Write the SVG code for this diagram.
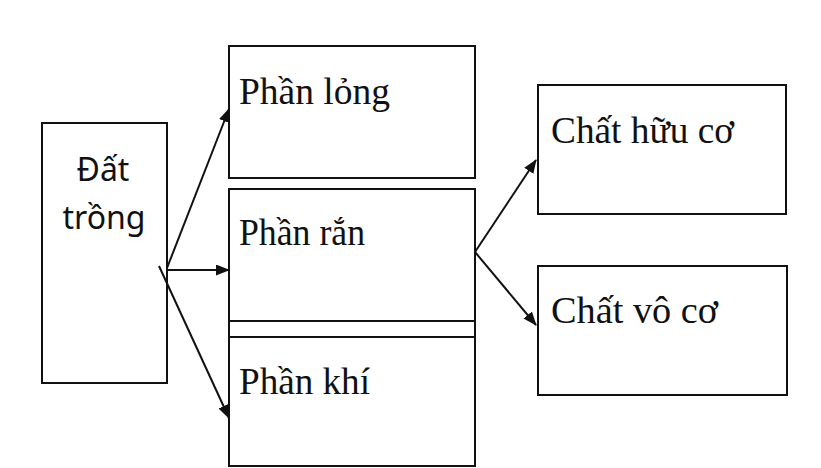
<svg xmlns="http://www.w3.org/2000/svg" width="821" height="468" viewBox="0 0 821 468">
<style>
.box{fill:#fff;stroke:#111;stroke-width:2}
.lbl{font-family:"Liberation Serif","Times New Roman",serif;font-size:37px;fill:#111}
.sans{font-family:"Noto Sans","Open Sans",sans-serif;font-size:32px;fill:#111;text-anchor:middle}
.conn{stroke:#111;stroke-width:2;fill:none}
</style>
<defs>
<marker id="ah" viewBox="0 0 14 11" refX="13" refY="5.5" markerWidth="14" markerHeight="11" markerUnits="userSpaceOnUse" orient="auto">
<path d="M0,0 L14,5.5 L0,11 Z" fill="#111"/>
</marker>
</defs>
<rect width="821" height="468" fill="#fff"/>
<g id="dat-trong">
<rect class="box" x="42" y="123" width="125" height="260"/>
<text class="sans" x="103" y="181">Đất</text>
<text class="sans" x="104" y="229">trồng</text>
</g>
<g id="phan-long">
<rect class="box" x="229" y="46" width="246" height="132"/>
<text class="lbl" x="239" y="104" textLength="151" lengthAdjust="spacingAndGlyphs">Phần lỏng</text>
</g>
<g id="phan-ran">
<rect class="box" x="229" y="189" width="246" height="132"/>
<text class="lbl" x="239" y="245" textLength="126" lengthAdjust="spacingAndGlyphs">Phần rắn</text>
</g>
<g id="phan-khi">
<path class="conn" d="M229,321 V337 M475,321 V337"/>
<rect class="box" x="229" y="337" width="246" height="129"/>
<text class="lbl" x="239" y="394" textLength="131" lengthAdjust="spacingAndGlyphs">Phần khí</text>
</g>
<g id="chat-huu-co">
<rect class="box" x="538" y="85" width="248" height="129"/>
<text class="lbl" x="551" y="143" textLength="183" lengthAdjust="spacingAndGlyphs">Chất hữu cơ</text>
</g>
<g id="chat-vo-co">
<rect class="box" x="538" y="266" width="249" height="129"/>
<text class="lbl" x="551" y="323" textLength="167" lengthAdjust="spacingAndGlyphs">Chất vô cơ</text>
</g>
<g id="connectors">
<line class="conn" x1="167" y1="268" x2="229" y2="109" marker-end="url(#ah)"/>
<line class="conn" x1="167" y1="270" x2="229" y2="270" marker-end="url(#ah)"/>
<line class="conn" x1="159" y1="266" x2="229" y2="418" marker-end="url(#ah)"/>
<line class="conn" x1="475" y1="252" x2="536" y2="160" marker-end="url(#ah)"/>
<line class="conn" x1="475" y1="252" x2="536" y2="325" marker-end="url(#ah)"/>
</g>
</svg>
